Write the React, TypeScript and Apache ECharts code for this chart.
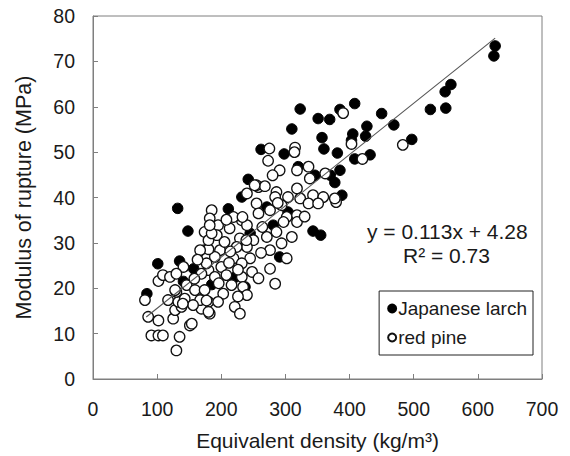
import React, { useEffect, useRef } from "react";
import * as echarts from "echarts";

const xTicks = [0, 100, 200, 300, 400, 500, 600, 700];
const yTicks = [0, 10, 20, 30, 40, 50, 60, 70, 80];

const larch: number[][] = [
  [627, 73.4], [625, 71.2], [558, 64.9], [549, 63.3], [550, 59.7], [526, 59.4], [450, 58.5], [469, 56],
  [497, 52.8], [408, 60.7], [385, 59.4], [369, 57.2], [427, 55.7], [405, 54], [403, 52.6], [425, 53.5],
  [381, 49.8], [432, 49.4], [408, 48.5], [385, 46], [377, 43.3], [388, 40.5], [370, 44.9], [323, 59.5],
  [351, 57.4], [310, 55.1], [357, 53.2], [360, 50.7], [262, 50.6], [298, 49.6], [242, 44], [320, 46.8],
  [346, 44.9], [232, 40.1], [271, 37.9], [304, 36.8], [281, 33.9], [343, 32.6], [355, 31.7], [211, 37.5],
  [291, 26.9], [177, 26.2], [221, 22.4], [245, 32.1], [185, 20.8], [148, 32.6], [101, 25.4], [135, 26],
  [157, 24.3], [84, 18.8], [132, 37.6], [141, 21.5], [237, 20.3]
];

const redPine: number[][] = [
  [483, 51.6], [390, 58.6], [420, 48.5], [379, 39], [403, 51.8], [315, 51], [314, 50], [275, 50.8],
  [273, 48.1], [291, 46], [280, 44.9], [362, 45.3], [336, 46.8], [338, 44.2], [318, 46], [258, 42.3],
  [255, 42.7], [268, 42.5], [240, 40.9], [286, 41.2], [284, 40.1], [318, 42], [343, 40.5], [359, 40.1],
  [377, 39.8], [304, 40.1], [323, 39.8], [336, 38.7], [351, 38.7], [294, 38.3], [255, 38.7], [276, 37.2],
  [258, 36.5], [302, 35.7], [318, 36.1], [318, 34.6], [297, 34.6], [185, 37.2], [182, 35.4], [195, 33.9],
  [232, 35], [240, 33.9], [219, 35.7], [213, 33.2], [174, 32.4], [193, 31.7], [229, 31], [250, 30.6],
  [271, 31.3], [310, 31.3], [294, 29.9], [276, 28.4], [240, 29.1], [174, 28.4], [198, 28.4], [177, 26.6],
  [190, 26.9], [219, 26.6], [245, 26.6], [302, 26.6], [232, 25.5], [276, 24.3], [200, 24.7], [180, 24],
  [208, 22.9], [190, 22.5], [232, 22.5], [216, 20.7], [234, 20.3], [284, 21], [203, 18.8], [240, 18.5],
  [180, 17], [195, 17], [221, 15.9], [229, 14.4], [182, 14.4],
  [81, 17.4], [102, 21.6], [109, 22.9], [120, 22.5], [117, 17.4], [86, 13.7], [102, 12.9], [91, 9.6],
  [102, 9.6], [109, 9.6], [135, 9.3], [130, 6.3], [151, 11.8], [125, 13.3], [128, 15.2], [138, 15.9],
  [133, 17], [143, 17.7], [130, 19.2], [146, 20.7], [159, 19.6], [169, 15.5], [167, 17.4], [180, 14.8],
  [177, 17.3], [156, 16.3], [174, 19.6], [169, 23.2], [177, 25.5], [180, 28.6], [180, 30.6], [185, 32.1],
  [182, 33.9], [141, 24.7], [130, 23.2], [167, 28.4], [154, 12.2], [140, 16.6], [128, 19.6], [224, 29.1],
  [233, 35.7], [239, 30.6], [252, 42.7],
  [205, 30.2], [214, 28.1], [226, 24.1], [248, 23.6], [262, 27.8], [264, 33.5], [286, 32.4], [208, 35.1],
  [196, 21.1], [212, 25.6], [158, 22.1], [163, 26.3], [226, 18.2], [258, 22.2], [330, 35.8], [288, 38.8]
];

const slope = 0.113;
const intercept = 4.28;
const trendX = [83, 627];
const equationText = "y = 0.113x + 4.28";
const r2Text = "R² = 0.73";

const FONT = "'Liberation Sans', Arial, sans-serif";
const TXT = "#1a1a1a";
const AX = "#7f7f7f";

export default function App() {
  const ref = useRef<HTMLDivElement>(null);
  useEffect(() => {
    if (!ref.current) return;
    const chart = echarts.init(ref.current, undefined, { renderer: "svg" });
    const trend = trendX.map((x) => [x, slope * x + intercept]);
    chart.setOption({
      animation: false,
      backgroundColor: "#fff",
      textStyle: { fontFamily: FONT },
      grid: {
        left: 93, right: 28, top: 16, bottom: 77,
        show: true, borderColor: AX, borderWidth: 1, backgroundColor: "transparent"
      },
      xAxis: {
        type: "value", min: xTicks[0], max: xTicks[xTicks.length - 1], interval: 100,
        name: "Equivalent density (kg/m³)", nameLocation: "middle", nameGap: 51,
        nameTextStyle: { fontSize: 21, color: TXT, fontFamily: FONT },
        axisLine: { show: true, lineStyle: { color: AX, width: 1 } },
        axisTick: { show: true, inside: true, length: 5, lineStyle: { color: AX } },
        axisLabel: { fontSize: 19.5, color: TXT, margin: 20, fontFamily: FONT },
        splitLine: { show: false }
      },
      yAxis: {
        type: "value", min: yTicks[0], max: yTicks[yTicks.length - 1], interval: 10,
        name: "Modulus of rupture (MPa)", nameLocation: "middle", nameGap: 58,
        nameTextStyle: { fontSize: 21.5, color: TXT, fontFamily: FONT },
        axisLine: { show: true, lineStyle: { color: AX, width: 1 } },
        axisTick: { show: true, inside: true, length: 5, lineStyle: { color: AX } },
        axisLabel: { fontSize: 19.5, color: TXT, margin: 18, fontFamily: FONT },
        splitLine: { show: false }
      },
      legend: {
        orient: "vertical", right: 37, bottom: 101,
        data: ["Japanese larch", "red pine"],
        borderColor: "#222", borderWidth: 1, padding: [8, 6, 8, 8],
        itemWidth: 8, itemHeight: 8, itemGap: 10,
        backgroundColor: "#fff",
        textStyle: { fontSize: 19, color: TXT, fontFamily: FONT, padding: [0, 0, 0, -3] },
        icon: "circle"
      },
      graphic: [
        { type: "text", left: 367, top: 221, style: { text: equationText, fontSize: 21, fill: TXT, fontFamily: FONT } },
        { type: "text", left: 403, top: 245, style: { text: r2Text, fontSize: 21, fill: TXT, fontFamily: FONT } }
      ],
      series: [
        {
          name: "Japanese larch", type: "scatter", symbol: "circle", symbolSize: 10.5,
          itemStyle: { color: "#000", borderColor: "#000", borderWidth: 1, opacity: 1 },
          data: larch, z: 2
        },
        {
          name: "red pine", type: "scatter", symbol: "circle", symbolSize: 10.5,
          itemStyle: { color: "#fff", borderColor: "#111", borderWidth: 1.3, opacity: 1 },
          data: redPine, z: 3
        },
        {
          name: "trend", type: "line", data: trend, symbol: "none", z: 4,
          lineStyle: { color: "#555", width: 1.1 }, silent: true
        }
      ]
    });
    return () => chart.dispose();
  }, []);
  return (
    <div
      ref={ref}
      style={{ position: "fixed", left: 0, top: 0, width: 570, height: 456, background: "#fff" }}
    />
  );
}
